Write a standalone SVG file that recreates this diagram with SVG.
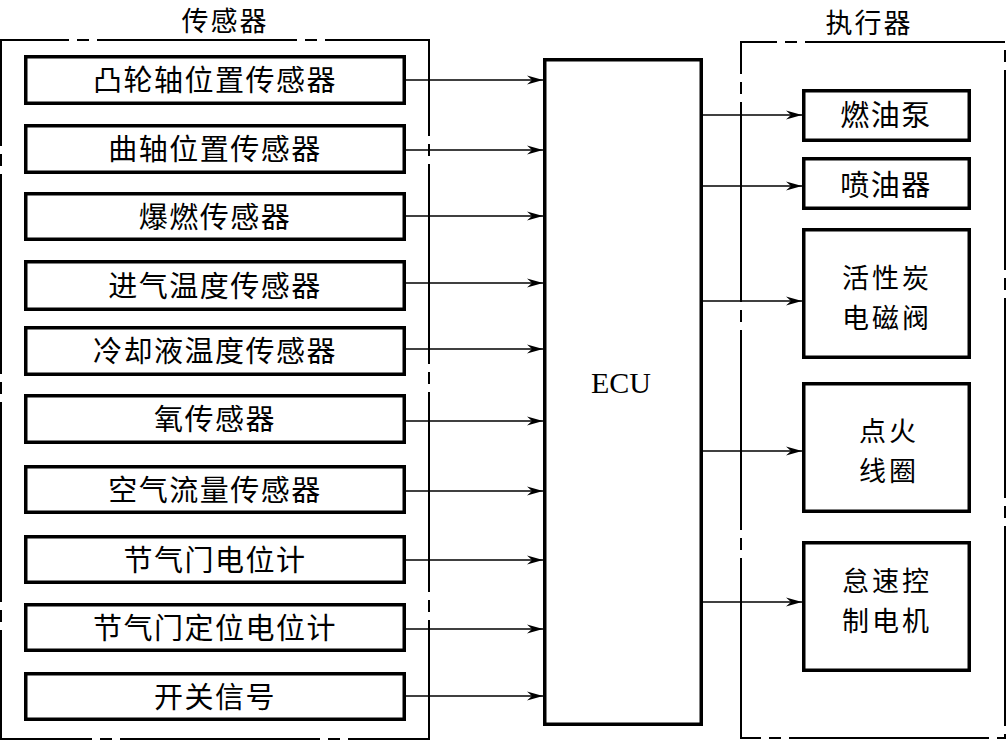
<svg xmlns="http://www.w3.org/2000/svg" width="1007" height="741" viewBox="0 0 1007 741">
<defs>
<marker id="ah" markerUnits="userSpaceOnUse" markerWidth="18" markerHeight="12" refX="16" refY="6" orient="auto">
<path d="M0,1.5 L16,6 L0,10.5 L5,6 z" fill="#000"/>
</marker>
<style>
.frame{fill:none;stroke:#000;stroke-width:2;stroke-dasharray:200 8 12 8}
.box{fill:#fff;stroke:#000;stroke-width:3.5}
.lbl{font-family:"Noto Sans CJK SC","Noto Sans",sans-serif;font-size:29px;letter-spacing:1.5px;fill:#000;text-anchor:middle}
.lbl2{font-family:"Noto Sans CJK SC","Noto Sans",sans-serif;font-size:27px;letter-spacing:3px;fill:#000;text-anchor:middle}
.ttl{font-family:"Noto Sans CJK SC","Noto Sans",sans-serif;font-size:27px;letter-spacing:2px;fill:#000;text-anchor:middle}
.ecu{font-family:"Liberation Serif",serif;font-size:30px;fill:#000;text-anchor:middle}
.conn line{stroke:#000;stroke-width:1.5;marker-end:url(#ah)}
</style>
</defs>
<rect width="1007" height="741" fill="#fff"/>
<g id="sensors-frame">
<rect class="frame" x="1" y="40" width="428" height="699" stroke-dashoffset="132"/>
<text class="ttl" x="225" y="31">传感器</text>
</g>
<g id="actuators-frame">
<rect class="frame" x="741" y="42" width="264" height="696" stroke-dashoffset="164"/>
<text class="ttl" x="869" y="33">执行器</text>
</g>
<g id="s1"><rect class="box" x="25.75" y="56.75" width="378.5" height="46.5"/><text class="lbl" x="215" y="91">凸轮轴位置传感器</text></g>
<g id="s2"><rect class="box" x="25.75" y="125.75" width="378.5" height="46.5"/><text class="lbl" x="215" y="160">曲轴位置传感器</text></g>
<g id="s3"><rect class="box" x="25.75" y="193.75" width="378.5" height="45.5"/><text class="lbl" x="215" y="228">爆燃传感器</text></g>
<g id="s4"><rect class="box" x="25.75" y="261.75" width="378.5" height="47.5"/><text class="lbl" x="215" y="297">进气温度传感器</text></g>
<g id="s5"><rect class="box" x="25.75" y="327.75" width="378.5" height="46.5"/><text class="lbl" x="215" y="362">冷却液温度传感器</text></g>
<g id="s6"><rect class="box" x="25.75" y="395.75" width="378.5" height="46.5"/><text class="lbl" x="215" y="430">氧传感器</text></g>
<g id="s7"><rect class="box" x="25.75" y="466.75" width="378.5" height="45.5"/><text class="lbl" x="215" y="501">空气流量传感器</text></g>
<g id="s8"><rect class="box" x="25.75" y="536.75" width="378.5" height="45.5"/><text class="lbl" x="215" y="571">节气门电位计</text></g>
<g id="s9"><rect class="box" x="25.75" y="604.75" width="378.5" height="45.5"/><text class="lbl" x="215" y="639">节气门定位电位计</text></g>
<g id="s10"><rect class="box" x="25.75" y="673.75" width="378.5" height="45.5"/><text class="lbl" x="215" y="708">开关信号</text></g>
<g id="ecu"><rect class="box" x="544.75" y="59.75" width="156.5" height="664.5"/><text class="ecu" x="621" y="393">ECU</text></g>
<g id="a1"><rect class="box" x="803.75" y="90.75" width="165.5" height="49.5"/><text class="lbl" x="886" y="126">燃油泵</text></g>
<g id="a2"><rect class="box" x="803.75" y="158.75" width="165.5" height="49.5"/><text class="lbl" x="886" y="196">喷油器</text></g>
<g id="a3"><rect class="box" x="803.75" y="229.75" width="165.5" height="127.5"/><text class="lbl2" x="887" y="288">活性炭<tspan x="887" dy="39.5">电磁阀</tspan></text></g>
<g id="a4"><rect class="box" x="803.75" y="383.75" width="165.5" height="127.5"/><text class="lbl2" x="889" y="441">点火<tspan x="889" dy="39.5">线圈</tspan></text></g>
<g id="a5"><rect class="box" x="803.75" y="542.75" width="165.5" height="127.5"/><text class="lbl2" x="887" y="591">怠速控<tspan x="887" dy="39.5">制电机</tspan></text></g>
<g id="connectors" class="conn">
<line x1="406" y1="80" x2="543" y2="80"/>
<line x1="406" y1="150" x2="543" y2="150"/>
<line x1="406" y1="216" x2="543" y2="216"/>
<line x1="406" y1="283" x2="543" y2="283"/>
<line x1="406" y1="349" x2="543" y2="349"/>
<line x1="406" y1="421" x2="543" y2="421"/>
<line x1="406" y1="491" x2="543" y2="491"/>
<line x1="406" y1="560" x2="543" y2="560"/>
<line x1="406" y1="629" x2="543" y2="629"/>
<line x1="406" y1="696" x2="543" y2="696"/>
<line x1="703" y1="115" x2="802" y2="115"/>
<line x1="703" y1="186" x2="802" y2="186"/>
<line x1="703" y1="301" x2="802" y2="301"/>
<line x1="703" y1="451" x2="802" y2="451"/>
<line x1="703" y1="602" x2="802" y2="602"/>
</g>
</svg>
